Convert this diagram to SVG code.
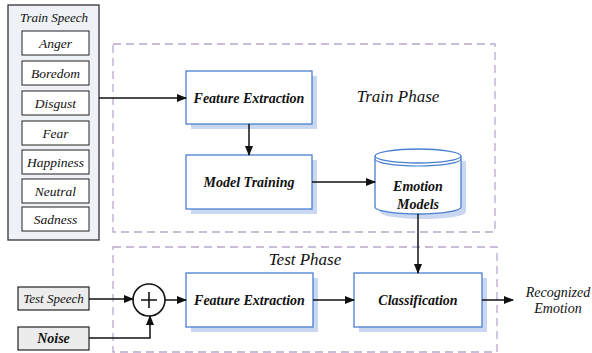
<svg xmlns="http://www.w3.org/2000/svg" width="592" height="353" viewBox="0 0 592 353" font-family="Liberation Serif, Times New Roman, DejaVu Serif, Noto Serif, FreeSerif, serif">
<style>
text{font-style:italic;fill:#111}
.b{font-weight:bold;font-size:14px}
.e{font-size:13.5px}
.phase{fill:none;stroke:#b8a8cc;stroke-width:1.3;stroke-dasharray:8 5}
.blue{fill:#fff;stroke:#4a7fd0;stroke-width:1.3}
.sh{fill:#c9d8f0}
.emo{fill:#fff;stroke:#222;stroke-width:1}
.gray{fill:#ececec;stroke:#222;stroke-width:1.2}
.c{fill:none;stroke:#111;stroke-width:1.5}
</style>
<defs>
<marker id="ah" markerWidth="10" markerHeight="8" refX="9" refY="4" orient="auto" markerUnits="userSpaceOnUse">
<path d="M0,0 L10,4 L0,8 Z" fill="#111"/>
</marker>
</defs>
<rect width="592" height="353" fill="#fff"/>

<g id="train-phase">
<rect class="phase" x="113" y="44" width="382" height="188"/>
<text x="398" y="102" font-size="17" text-anchor="middle">Train Phase</text>
</g>
<g id="test-phase">
<rect class="phase" x="113" y="247" width="384" height="105"/>
<text x="305" y="265" font-size="17" text-anchor="middle">Test Phase</text>
</g>

<g id="train-speech">
<rect x="8" y="5" width="91" height="235" fill="#eef1f6" stroke="#333" stroke-width="1.3"/>
<text x="54" y="22" font-size="13" text-anchor="middle">Train Speech</text>
<rect class="emo" x="22" y="31" width="67" height="24"/>
<text class="e" x="55.5" y="48" text-anchor="middle">Anger</text>
<rect class="emo" x="22" y="61" width="67" height="24"/>
<text class="e" x="55.5" y="78" text-anchor="middle">Boredom</text>
<rect class="emo" x="22" y="91" width="67" height="24"/>
<text class="e" x="55.5" y="108" text-anchor="middle">Disgust</text>
<rect class="emo" x="22" y="121" width="67" height="24"/>
<text class="e" x="55.5" y="138" text-anchor="middle">Fear</text>
<rect class="emo" x="22" y="150" width="67" height="24"/>
<text class="e" x="55.5" y="167" text-anchor="middle">Happiness</text>
<rect class="emo" x="22" y="179" width="67" height="24"/>
<text class="e" x="55.5" y="196" text-anchor="middle">Neutral</text>
<rect class="emo" x="22" y="207" width="67" height="24"/>
<text class="e" x="55.5" y="224" text-anchor="middle">Sadness</text>
</g>

<g id="fe-train">
<rect class="sh" x="191" y="76" width="126" height="53"/>
<rect class="blue" x="186" y="71" width="126" height="53"/>
<text class="b" x="249" y="103" text-anchor="middle">Feature Extraction</text>
</g>
<g id="model-training">
<rect class="sh" x="191" y="160" width="126" height="54"/>
<rect class="blue" x="186" y="155" width="126" height="54"/>
<text class="b" x="249" y="187" text-anchor="middle">Model Training</text>
</g>
<g id="emotion-models">
<path class="sh" d="M380,161 L466,161 L466,212 A43,7 0 0 1 380,212 Z"/>
<path class="blue" d="M375,156 L375,207 A43,7 0 0 0 461,207 L461,156"/>
<ellipse class="blue" cx="418" cy="156" rx="43" ry="7"/>
<path d="M375,159 A43,7 0 0 0 461,159" fill="none" stroke="#4a7fd0" stroke-width="1.2"/>
<text class="b" x="418" y="191" text-anchor="middle">Emotion</text>
<text class="b" x="418" y="209" text-anchor="middle">Models</text>
</g>

<g id="test-speech">
<rect class="gray" x="18" y="287" width="71" height="23"/>
<text x="53.5" y="303" font-size="13" text-anchor="middle">Test Speech</text>
</g>
<g id="noise">
<rect class="gray" x="18" y="327" width="71" height="23"/>
<text class="b" x="53.5" y="343" font-size="13" text-anchor="middle">Noise</text>
</g>
<g id="sum">
<circle cx="149" cy="300" r="16" fill="#fff" stroke="#111" stroke-width="1.6"/>
<path d="M141,300 H157 M149,292 V308" stroke="#111" stroke-width="1.6"/>
</g>
<g id="fe-test">
<rect class="sh" x="191" y="278" width="127" height="54"/>
<rect class="blue" x="186" y="273" width="127" height="54"/>
<text class="b" x="249.5" y="305" text-anchor="middle">Feature Extraction</text>
</g>
<g id="classification">
<rect class="sh" x="359" y="278" width="128" height="54"/>
<rect class="blue" x="354" y="273" width="128" height="54"/>
<text class="b" x="418" y="305" text-anchor="middle">Classification</text>
</g>
<g id="output">
<text x="558" y="297" font-size="14" text-anchor="middle">Recognized</text>
<text x="558" y="313" font-size="14" text-anchor="middle">Emotion</text>
</g>

<g id="connectors">
<line class="c" x1="99" y1="98" x2="186" y2="98" marker-end="url(#ah)"/>
<line class="c" x1="249" y1="124" x2="249" y2="155" marker-end="url(#ah)"/>
<line class="c" x1="312" y1="182" x2="375" y2="182" marker-end="url(#ah)"/>
<line class="c" x1="418" y1="214" x2="418" y2="273" marker-end="url(#ah)"/>
<line class="c" x1="89" y1="299" x2="133" y2="299" marker-end="url(#ah)"/>
<polyline class="c" points="89,338 150,338 150,316" marker-end="url(#ah)"/>
<line class="c" x1="165" y1="300" x2="186" y2="300" marker-end="url(#ah)"/>
<line class="c" x1="313" y1="300" x2="354" y2="300" marker-end="url(#ah)"/>
<line class="c" x1="482" y1="300" x2="513" y2="300" marker-end="url(#ah)"/>
</g>
</svg>
